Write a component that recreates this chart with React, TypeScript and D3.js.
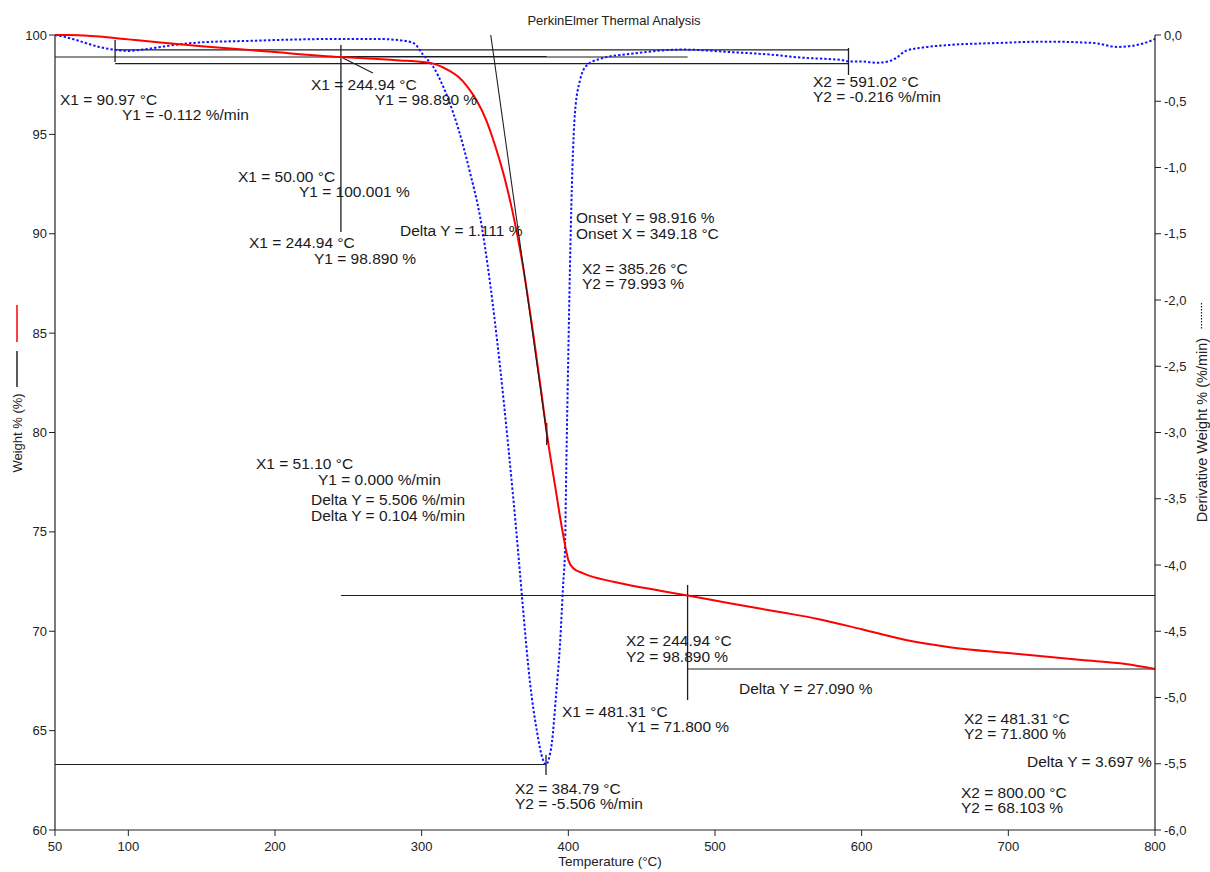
import React from "react";
import * as d3 from "d3";

// ---- Data ----
// Weight % curve (temperature °C, weight %)
const weightT = [50, 60, 70, 80, 100, 120, 150, 200, 244.94, 270, 285, 299, 308, 319, 325, 331, 337.5, 344, 350, 356, 362, 369, 376, 382, 385.26, 391, 396.6, 400, 403.4, 410.2, 430.7, 453.4, 481.31, 510, 544, 570, 600, 630, 660, 700, 750, 780, 800];
const weightV = [100.0, 100.0, 99.97, 99.92, 99.78, 99.64, 99.44, 99.14, 98.89, 98.79, 98.72, 98.66, 98.56, 98.2, 97.9, 97.42, 96.7, 95.72, 94.45, 92.95, 91.1, 88.4, 85.0, 81.8, 79.993, 77.3, 74.8, 73.58, 73.17, 72.91, 72.49, 72.16, 71.8, 71.41, 70.97, 70.62, 70.1, 69.56, 69.2, 68.9, 68.55, 68.35, 68.103];

// Derivative weight curve (temperature °C, %/min)
const derivT = [50, 55, 65, 80, 91, 100, 110, 122, 135, 150, 180, 210, 240, 270, 285, 294.3, 301.1, 307.9, 314.7, 321.6, 328.4, 333, 339.8, 346.6, 353.4, 359.1, 365.7, 368.4, 373.9, 378.5, 382.7, 384.79, 386.8, 388.8, 391.5, 394.3, 396.5, 397.7, 398.7, 400, 401.4, 402.8, 404.5, 408, 412.5, 421.6, 444, 478, 512, 540, 558, 587, 592, 600, 610, 618, 624, 630, 645, 660, 694, 723, 758, 774, 790, 800];
const derivV = [0.0, -0.01, -0.04, -0.09, -0.112, -0.12, -0.11, -0.09, -0.07, -0.055, -0.045, -0.035, -0.03, -0.03, -0.04, -0.06, -0.15, -0.24, -0.39, -0.59, -0.84, -1.04, -1.37, -1.87, -2.5, -3.11, -3.89, -4.24, -4.89, -5.25, -5.47, -5.506, -5.46, -5.34, -5.0, -4.6, -4.14, -3.89, -3.2, -2.4, -1.6, -1.0, -0.59, -0.34, -0.23, -0.18, -0.14, -0.11, -0.13, -0.15, -0.17, -0.19, -0.2, -0.2, -0.21, -0.2, -0.17, -0.12, -0.09, -0.075, -0.06, -0.05, -0.06, -0.09, -0.07, -0.03];

// Axis ticks
const xTicks = [50, 100, 200, 300, 400, 500, 600, 700, 800];
const wTicks = [60, 65, 70, 75, 80, 85, 90, 95, 100];
const dTicks = [-6, -5.5, -5, -4.5, -4, -3.5, -3, -2.5, -2, -1.5, -1, -0.5, 0];

// Horizontal analysis lines: [axis, value, T start, T end]
const hLineAxis = ["w", "w", "d", "d", "d", "w", "w"];
const hLineValue = [98.89, 98.916, -0.112, -0.216, -5.506, 71.8, 68.103];
const hLineT1 = [50, 244.94, 90.97, 90.97, 50, 244.94, 481.31];
const hLineT2 = [481.31, 385.26, 591.02, 591.02, 384.79, 800, 800];

// Vertical markers: [T, weight from, weight to]
const vMarkT = [90.97, 244.94, 591.02, 384.79, 385.26, 481.31];
const vMarkW1 = [99.75, 99.5, 99.35, 63.77, 80.48, 72.33];
const vMarkW2 = [98.64, 90.09, 97.99, 62.77, 79.37, 66.54];

// Onset tangent and leader line (T, weight)
const tangentT = [347.1, 386.1];
const tangentW = [100, 79.5];
const leaderT = [246.3, 266.8];
const leaderW = [98.84, 98.09];

// Annotation texts and their anchors (T, weight)
const labelText = [
  "X1 = 90.97 °C", "Y1 = -0.112 %/min", "X1 = 244.94 °C", "Y1 = 98.890 %",
  "X2 = 591.02 °C", "Y2 = -0.216 %/min", "X1 = 50.00 °C", "Y1 = 100.001 %",
  "X1 = 244.94 °C", "Y1 = 98.890 %", "Delta Y = 1.111 %", "Onset Y = 98.916 %",
  "Onset X = 349.18 °C", "X2 = 385.26 °C", "Y2 = 79.993 %", "X1 = 51.10 °C",
  "Y1 = 0.000 %/min", "Delta Y = 5.506 %/min", "Delta Y = 0.104 %/min", "X2 = 244.94 °C",
  "Y2 = 98.890 %", "Delta Y = 27.090 %", "X1 = 481.31 °C", "Y1 = 71.800 %",
  "X2 = 481.31 °C", "Y2 = 71.800 %", "Delta Y = 3.697 %", "X2 = 800.00 °C",
  "Y2 = 68.103 %", "X2 = 384.79 °C", "Y2 = -5.506 %/min",
];
const labelT = [53.41, 95.68, 224.55, 268.18, 566.82, 566.82, 174.77, 216.36, 182.27, 226.59, 285.23, 405.23, 405.23, 409.32, 409.32, 187.05, 229.32, 224.55, 224.55, 439.32, 439.32, 516.36, 395.68, 440.0, 669.77, 669.77, 712.73, 667.73, 667.73, 363.64, 363.64];
const labelW = [96.48, 95.72, 97.23, 96.48, 97.38, 96.63, 92.6, 91.85, 89.28, 88.48, 89.89, 90.54, 89.74, 87.97, 87.22, 78.16, 77.36, 76.35, 75.55, 69.26, 68.45, 66.84, 65.69, 64.94, 65.35, 64.6, 63.19, 61.62, 60.86, 61.81, 61.06];

const FONT = "'Liberation Sans', Arial, sans-serif";

export default function App() {
  const W = 1210;
  const H = 872;
  const x = d3.scaleLinear().domain([50, 800]).range([55, 1155]);
  const yW = d3.scaleLinear().domain([60, 100]).range([830, 35]);
  const yD = d3.scaleLinear().domain([-6, 0]).range([830, 35]);

  const weightPts = weightT.map((t, i) => [t, weightV[i]] as [number, number]);
  const derivPts = derivT.map((t, i) => [t, derivV[i]] as [number, number]);

  const lineW = d3
    .line<[number, number]>()
    .x((d) => x(d[0]))
    .y((d) => yW(d[1]))
    .curve(d3.curveMonotoneX);
  const lineD = d3
    .line<[number, number]>()
    .x((d) => x(d[0]))
    .y((d) => yD(d[1]))
    .curve(d3.curveMonotoneX);

  const fmtD = (v: number) => d3.format(".1f")(v).replace("−", "-").replace(".", ",");
  const lineColor = "#1e1e1e";

  return (
    <svg
      width={W}
      height={H}
      style={{ position: "absolute", left: 0, top: 0, background: "#fff" }}
      fontFamily={FONT}
    >
      <rect x={0} y={0} width={W} height={H} fill="#fff" />
      {/* title */}
      <text x={614} y={25} fontSize={13} textAnchor="middle" fill="#222">
        PerkinElmer Thermal Analysis
      </text>

      {/* analysis lines */}
      {hLineValue.map((v, i) => {
        const yy = hLineAxis[i] === "w" ? yW(v) : yD(v);
        return (
          <line key={"h" + i} x1={x(hLineT1[i])} x2={x(hLineT2[i])} y1={yy} y2={yy} stroke={lineColor} strokeWidth={1.1} />
        );
      })}
      {vMarkT.map((t, i) => (
        <line key={"v" + i} x1={x(t)} x2={x(t)} y1={yW(vMarkW1[i])} y2={yW(vMarkW2[i])} stroke={lineColor} strokeWidth={1.3} />
      ))}
      <line x1={x(leaderT[0])} y1={yW(leaderW[0])} x2={x(leaderT[1])} y2={yW(leaderW[1])} stroke={lineColor} strokeWidth={1.1} />

      {/* derivative curve */}
      <path d={lineD(derivPts) || ""} fill="none" stroke="#1414ff" strokeWidth={2} strokeDasharray="2.4,2" />
      {/* weight curve */}
      <path d={lineW(weightPts) || ""} fill="none" stroke="#ff0000" strokeWidth={2} />
      {/* tangent */}
      <line x1={x(tangentT[0])} y1={yW(tangentW[0])} x2={x(tangentT[1])} y2={yW(tangentW[1])} stroke={lineColor} strokeWidth={1.1} />

      {/* axes */}
      <line x1={55} x2={1155} y1={830} y2={830} stroke="#222" strokeWidth={1.2} />
      <line x1={55} x2={55} y1={35} y2={830} stroke="#222" strokeWidth={1.2} />
      <line x1={1155} x2={1155} y1={35} y2={830} stroke="#222" strokeWidth={1.2} />
      {xTicks.map((t) => (
        <g key={"xt" + t}>
          <line x1={x(t)} x2={x(t)} y1={830} y2={836} stroke="#222" />
          <text x={x(t)} y={851} fontSize={13} textAnchor="middle" fill="#222">
            {t}
          </text>
        </g>
      ))}
      {wTicks.map((t) => (
        <g key={"wt" + t}>
          <line x1={49} x2={55} y1={yW(t)} y2={yW(t)} stroke="#222" />
          <text x={47} y={yW(t) + 4.5} fontSize={13} textAnchor="end" fill="#222">
            {t}
          </text>
        </g>
      ))}
      {dTicks.map((t) => (
        <g key={"dt" + t}>
          <line x1={1155} x2={1161} y1={yD(t)} y2={yD(t)} stroke="#222" />
          <text x={1164} y={yD(t) + 4.5} fontSize={13} textAnchor="start" fill="#222">
            {fmtD(t)}
          </text>
        </g>
      ))}

      {/* axis titles */}
      <text x={610} y={866} fontSize={13.5} textAnchor="middle" fill="#222">
        Temperature (°C)
      </text>
      <line x1={17} x2={17} y1={305} y2={342} stroke="#ff0000" strokeWidth={1.5} />
      <line x1={17} x2={17} y1={351} y2={387} stroke="#222" strokeWidth={1.5} />
      <text transform="translate(21.5,433) rotate(-90)" fontSize={13} textAnchor="middle" fill="#222">
        Weight % (%)
      </text>
      <text transform="translate(1206.5,430) rotate(-90)" fontSize={14.5} textAnchor="middle" fill="#222">
        Derivative Weight % (%/min)
      </text>
      <line x1={1201.5} x2={1201.5} y1={303} y2={330} stroke="#222" strokeWidth={1.2} strokeDasharray="1.5,1.5" />

      {/* annotation labels */}
      {labelText.map((s, i) => (
        <text key={"l" + i} x={x(labelT[i])} y={yW(labelW[i])} fontSize={15.5} fill="#1a1a1a">
          {s}
        </text>
      ))}
    </svg>
  );
}
